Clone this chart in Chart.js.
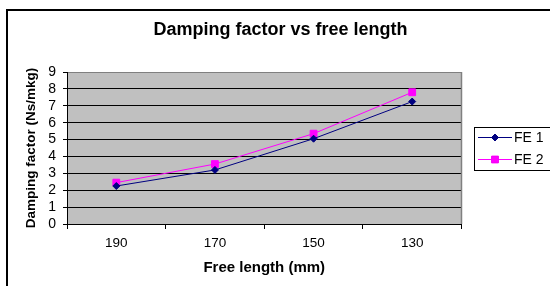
<!DOCTYPE html>
<html>
<head>
<meta charset="utf-8">
<script src="https://cdn.jsdelivr.net/npm/chart.js@4.4.1/dist/chart.umd.min.js"></script>
<style>
  html, body { margin: 0; padding: 0; background: #fff; }
  #wrap { width: 550px; height: 286px; position: relative; }
</style>
</head>
<body>
<div id="wrap"><canvas id="c"></canvas></div>
<script>
const categories = ['190', '170', '150', '130'];
const fe1 = [2.25, 3.2, 5.05, 7.25];
const fe2 = [2.45, 3.55, 5.35, 7.8];
const yMin = 0, yMax = 9, yStep = 1;
const seriesNames = ['FE 1', 'FE 2'];

const FONT = "'Liberation Sans', Arial, sans-serif";

const frame = {
  id: 'frame',
  beforeDraw(chart) {
    const { ctx, chartArea: a } = chart;
    ctx.save();
    ctx.fillStyle = '#C0C0C0';
    ctx.fillRect(a.left, a.top, a.right - a.left, a.bottom - a.top);
    ctx.strokeStyle = '#000';
    ctx.lineWidth = 2;
    ctx.strokeRect(7, 10, 600, 400);
    ctx.restore();
  },
  beforeDatasetsDraw(chart) {
    const { ctx, chartArea: a } = chart;
    ctx.save();
    ctx.strokeStyle = '#808080';
    ctx.lineWidth = 1.5;
    ctx.beginPath();
    ctx.moveTo(Math.round(a.right) - 0.5, a.top);
    ctx.lineTo(Math.round(a.right) - 0.5, a.bottom);
    ctx.stroke();
    ctx.restore();
  },
  afterDraw(chart) {
    const { ctx } = chart;
    ctx.save();
    ctx.strokeStyle = '#000';
    ctx.lineWidth = 1;
    ctx.strokeRect(474.5, 127.5, 120, 43);
    const rows = [137.5, 159.5];
    chart.data.datasets.forEach((ds, i) => {
      const y = rows[i];
      ctx.strokeStyle = ds.borderColor;
      ctx.lineWidth = 1;
      ctx.beginPath();
      ctx.moveTo(478, y);
      ctx.lineTo(512, y);
      ctx.stroke();
      Chart.helpers.drawPoint(ctx, {
        pointStyle: ds.pointStyle,
        radius: ds.pointRadius,
        borderWidth: 1
      }, 495, y);
      ctx.fillStyle = ds.pointBackgroundColor;
      ctx.strokeStyle = ds.pointBorderColor;
      ctx.fill();
      ctx.fillStyle = '#000';
      ctx.font = '14px ' + FONT;
      ctx.textBaseline = 'middle';
      ctx.textAlign = 'left';
      ctx.fillText(ds.label, 514, y + 0.5);
    });
    ctx.restore();
  }
};

new Chart(document.getElementById('c'), {
  type: 'line',
  data: {
    labels: categories,
    datasets: [
      {
        label: seriesNames[0], data: fe1,
        borderColor: '#000080', backgroundColor: '#000080',
        pointBackgroundColor: '#000080', pointBorderColor: '#000080',
        pointStyle: 'rectRot', pointRadius: 3.5, borderWidth: 1, tension: 0
      },
      {
        label: seriesNames[1], data: fe2,
        borderColor: '#FF00FF', backgroundColor: '#FF00FF',
        pointBackgroundColor: '#FF00FF', pointBorderColor: '#FF00FF',
        pointStyle: 'rect', pointRadius: 4.8, borderWidth: 1, tension: 0
      }
    ]
  },
  options: {
    responsive: true,
    maintainAspectRatio: false,
    animation: false,
    devicePixelRatio: 1,
    layout: { padding: { left: 11, right: 0, top: 0, bottom: 0 } },
    plugins: {
      legend: { display: false },
      tooltip: { enabled: false },
      title: {
        display: true,
        text: 'Damping factor vs free length',
        color: '#000',
        font: { family: FONT, size: 18, weight: 'bold' },
        padding: { top: 19.2, bottom: 31.2 }
      }
    },
    scales: {
      x: {
        type: 'category',
        offset: true,
        afterFit(s) { s.height = 62; },
        grid: {
          offset: true, drawOnChartArea: false, drawTicks: true,
          tickLength: 5, color: '#000', tickColor: '#000'
        },
        border: { display: true, color: '#000', width: 1 },
        ticks: { color: '#000', font: { family: FONT, size: 13.5 }, padding: 6.5, maxRotation: 0 },
        title: {
          display: true, text: 'Free length (mm)', color: '#000',
          font: { family: FONT, size: 15, weight: 'bold' },
          padding: { top: 0, bottom: 9.5 }
        }
      },
      y: {
        min: yMin, max: yMax,
        afterFit(s) { s.width = 56; },
        grid: {
          drawTicks: true, tickLength: 4,
          color: (c) => (c.tick && c.tick.value === yMax) ? '#808080' : '#000',
          tickColor: '#000'
        },
        border: { display: true, color: '#000', width: 1 },
        ticks: { stepSize: yStep, autoSkip: false, color: '#000', font: { family: FONT, size: 14 }, padding: 7 },
        title: {
          display: true, text: 'Damping factor (Ns/mkg)', color: '#000',
          font: { family: FONT, size: 13.5, weight: 'bold' },
          padding: { top: 12.5, bottom: 0 }
        }
      },
      yR: {
        position: 'right',
        display: true,
        afterFit(s) { s.width = 88.5; },
        grid: { display: false, drawOnChartArea: false, drawTicks: false },
        border: { display: false },
        ticks: { display: false }
      }
    }
  },
  plugins: [frame]
});
</script>
</body>
</html>
